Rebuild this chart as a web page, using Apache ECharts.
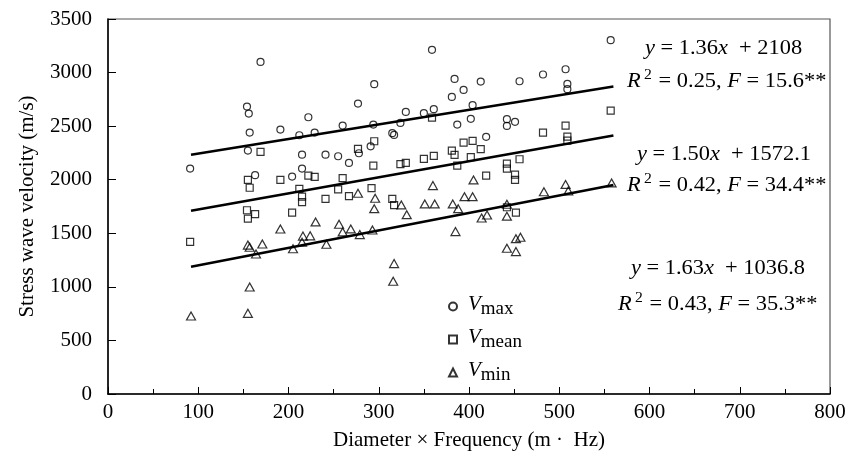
<!DOCTYPE html>
<html><head><meta charset="utf-8">
<script src="https://cdn.jsdelivr.net/npm/echarts@6/dist/echarts.min.js"></script>
<style>html,body{margin:0;padding:0;background:#fff}#c{width:856px;height:471px}</style>
</head><body><div id="c"></div>
<script>
// Vmax (circles)
const vmaxX = [91,154,156,157,155,163,169,191,204,212,215,215,222,229,241,255,260,267,277,278,291,294,295,315,317,324,330,350,359,361,381,384,387,394,402,404,413,419,442,442,451,456,482,507,509,509,557];
const vmaxY = [2104,2683,2617,2440,2272,2042,3099,2468,2029,2415,2234,2104,2583,2440,2234,2219,2505,2157,2711,2247,2312,2515,2892,2434,2418,2530,2633,2621,3212,2658,2773,2941,2515,2838,2568,2696,2916,2400,2565,2502,2540,2919,2982,3031,2894,2845,3302];
// Vmean (squares)
const vmeanX = [91,154,155,155,157,163,169,191,204,212,215,215,222,229,241,255,260,267,277,292,294,295,315,317,324,330,350,359,361,381,384,387,394,402,404,413,419,442,442,442,451,451,452,456,482,507,509,509,557];
const vmeanY = [1419,1715,1998,1637,1925,1678,2259,1998,1693,1914,1842,1790,2038,2026,1821,1910,2014,1846,2288,1922,2132,2359,1821,1762,2145,2157,2194,2580,2222,2272,2232,2132,2347,2210,2362,2285,2038,2150,2104,1743,2048,1998,1693,2191,2440,2505,2403,2365,2645];
// Vmin (triangles)
const vminX = [92,155,157,155,157,164,171,191,205,215,216,224,230,242,256,260,269,277,279,293,295,296,316,317,325,331,351,360,362,382,385,388,395,404,405,414,420,442,442,442,452,452,457,483,507,510,558];
const vminY = [728,753,999,1390,1370,1307,1400,1540,1356,1416,1474,1476,1606,1398,1584,1513,1541,1874,1488,1531,1730,1827,1052,1217,1765,1674,1774,1945,1774,1774,1516,1730,1842,1842,1998,1643,1671,1771,1660,1360,1329,1450,1463,1888,1956,1895,1970];
// fitted line end points
const fitX = [92, 560];
const fitMax = [2233, 2870];
const fitMean = [1710, 2412];
const fitMin = [1187, 1950];
// equation texts
const eqLines = [
  '{i|y} = 1.36{i|x}  + 2108',
  '{i|R}{sup|2} = 0.25, {i|F} = 15.6**',
  '{i|y} = 1.50{i|x}  + 1572.1',
  '{i|R}{sup|2} = 0.42, {i|F} = 34.4**',
  '{i|y} = 1.63{i|x}  + 1036.8',
  '{i|R}{sup|2} = 0.43, {i|F} = 35.3**'
];
const seriesNames = ['Vmax', 'Vmean', 'Vmin'];

const FF = 'Liberation Serif';
const pairs = (xs, ys) => xs.map((x, i) => [x, ys[i]]);
const mk = {color: 'rgba(0,0,0,0)', borderColor: '#000', borderWidth: 1.2};

const chart = echarts.init(document.getElementById('c'));
const eqPos = [[645,49],[627,82],[637,155],[627,186],[631,269],[618,305]];
const rich = {
  i: {fontFamily: FF, fontSize: 20, fontStyle: 'italic', fill: '#000'},
  sup: {fontFamily: FF, fontSize: 14, fill: '#000', verticalAlign: 'top', padding: [0,1,14,3]}
};
chart.setOption({
  animation: false,
  backgroundColor: '#fff',
  grid: {left: 108, right: 26, top: 19, bottom: 77, show: true, borderColor: '#555', borderWidth: 1.2},
  xAxis: {
    type: 'value', min: 0, max: 800, interval: 100,
    axisLine: {lineStyle: {color: '#000', width: 1.5}},
    axisTick: {inside: true, length: 7, lineStyle: {color: '#000'}},
    minorTick: {show: true, splitNumber: 2, length: 5, lineStyle: {color: '#000'}},
    splitLine: {show: false},
    axisLabel: {fontFamily: FF, fontSize: 21, color: '#000', margin: 8, formatter: v => String(v)},
    name: 'Diameter × Frequency (m ·  Hz)', nameLocation: 'middle', nameGap: 36,
    nameTextStyle: {fontFamily: FF, fontSize: 21, color: '#000'}
  },
  yAxis: {
    type: 'value', min: 0, max: 3500, interval: 500,
    axisLine: {lineStyle: {color: '#000', width: 1.5}},
    axisTick: {inside: true, length: 8, lineStyle: {color: '#000'}},
    splitLine: {show: false},
    axisLabel: {fontFamily: FF, fontSize: 21, color: '#000', margin: 16, formatter: v => String(v)},
    name: 'Stress wave velocity (m/s)', nameLocation: 'middle', nameGap: 70,
    nameTextStyle: {fontFamily: FF, fontSize: 21, color: '#000'}
  },
  legend: {
    orient: 'vertical', left: 448, top: 294, itemGap: 8, padding: 0,
    itemWidth: 8, itemHeight: 8,
    data: [
      {name: 'Vmax', icon: 'circle'},
      {name: 'Vmean', icon: 'rect'},
      {name: 'Vmin', icon: 'triangle'}
    ],
    formatter: n => '{v|V}{s|' + n.slice(1) + '}',
    textStyle: {
      rich: {
        v: {fontFamily: FF, fontSize: 21, fontStyle: 'italic', color: '#000', verticalAlign: 'top', padding: [0,0,0,6]},
        s: {fontFamily: FF, fontSize: 19, color: '#000', verticalAlign: 'bottom', padding: [6,0,0,0]}
      }
    }
  },
  graphic: eqLines.map((t, k) => ({
    type: 'text', x: eqPos[k][0], y: eqPos[k][1], scaleX: 1.12,
    style: {text: t, fontFamily: FF, fontSize: 20, fill: '#000', verticalAlign: 'middle', rich: rich}
  })),
  series: [
    {type: 'line', data: pairs(fitX, fitMax), showSymbol: false, lineStyle: {color: '#000', width: 2.5}, silent: true, z: 1},
    {type: 'line', data: pairs(fitX, fitMean), showSymbol: false, lineStyle: {color: '#000', width: 2.5}, silent: true, z: 1},
    {type: 'line', data: pairs(fitX, fitMin), showSymbol: false, lineStyle: {color: '#000', width: 2.5}, silent: true, z: 1},
    {name: seriesNames[0], type: 'scatter', symbol: 'circle', symbolSize: 7, itemStyle: mk, data: pairs(vmaxX, vmaxY), z: 3},
    {name: seriesNames[1], type: 'scatter', symbol: 'rect', symbolSize: 7, itemStyle: mk, data: pairs(vmeanX, vmeanY), z: 3},
    {name: seriesNames[2], type: 'scatter', symbol: 'triangle', symbolSize: [9, 8], itemStyle: mk, data: pairs(vminX, vminY), z: 3}
  ]
});
</script></body></html>
